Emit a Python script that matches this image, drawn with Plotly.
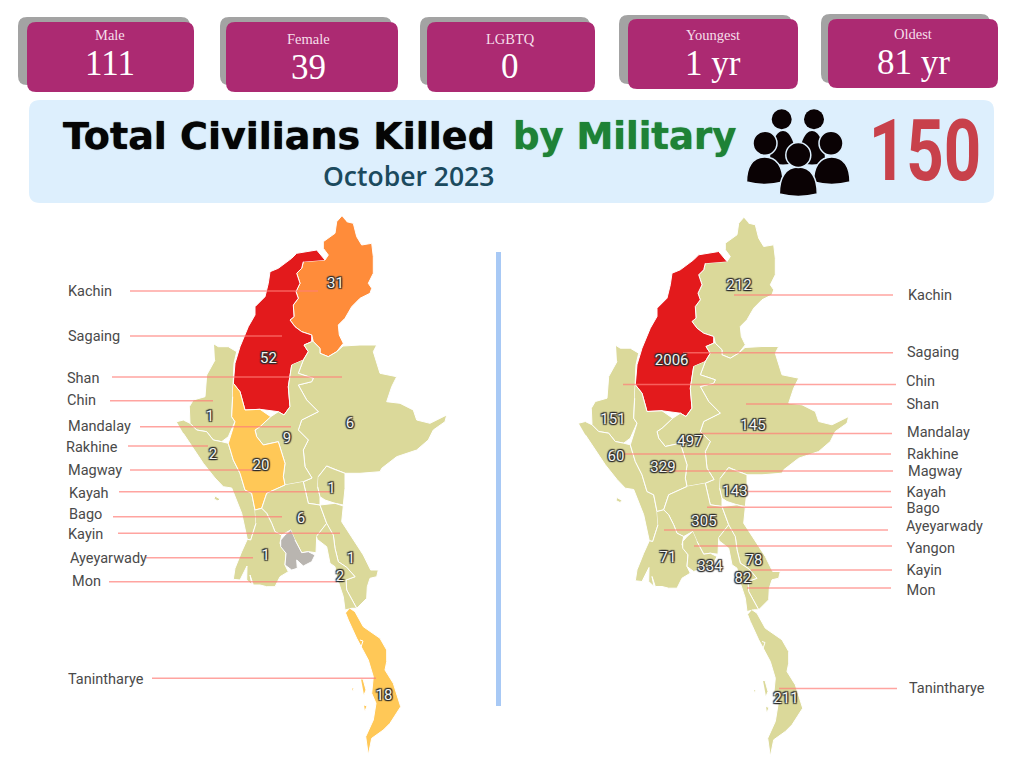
import plotly.graph_objects as go

# cards across the top
card_titles = ["Male", "Female", "LGBTQ", "Youngest", "Oldest"]
card_values = ["111", "39", "0", "1 yr", "81 yr"]
card_boxes = [(27, 22, 194, 92), (226, 22, 398, 92), (427, 22, 595, 92), (628, 19, 798, 89), (828, 19, 998, 88)]
card_backs = [(18, 17, 190, 85), (220, 17, 392, 85), (420, 17, 590, 85), (619, 15, 792, 84), (821, 14, 990, 83)]
card_title_y = [35, 39, 39, 35, 34]
card_value_y = [63, 67, 66, 63, 62]
card_x = [110, 308, 510, 713, 913]

# October 2023 counts, left map
oct_states = ["Kachin", "Sagaing", "Shan", "Chin", "Mandalay", "Rakhine", "Magway", "Kayah", "Bago", "Kayin", "Ayeyarwady", "Mon", "Tanintharye"]
oct_killed = [31, 52, 6, 1, 9, 2, 20, 1, 6, 1, 1, 2, 18]
oct_value_x = [335.5, 268.5, 350, 210, 287, 213, 261, 331.5, 301, 351, 265.7, 340, 384]
oct_value_y = [284, 359, 424, 417, 439, 455, 466, 489.5, 519.5, 559, 556, 577, 696.7]
oct_label_x = [68, 68, 67, 67, 68, 66, 68, 69, 69, 68, 70, 72, 68]
oct_label_y = [292, 337, 379, 401.5, 427, 448.5, 471, 494, 515, 535, 559, 582.5, 680]
oct_line_start = [130, 130, 112, 110, 140, 128, 130, 119, 113, 118, 146, 109, 152]
oct_line_end = [318, 282, 342, 213, 291, 208, 260, 330, 282, 340, 253, 337, 376]
oct_line_y = [291, 336, 377, 400.7, 426.7, 446, 470, 491.7, 516.7, 533.3, 557.7, 581.7, 678.3]

# running totals, right map
total_states = ["Kachin", "Sagaing", "Chin", "Shan", "Mandalay", "Rakhine", "Magway", "Kayah", "Bago", "Ayeyarwady", "Yangon", "Kayin", "Mon", "Tanintharye"]
total_killed = [212, 2006, 151, 145, 497, 60, 329, 143, 305, 71, 334, 78, 82, 211]
total_value_x = [739, 671.7, 613, 753, 690, 616, 663, 735, 704, 668, 710, 754, 743, 786]
total_value_y = [286, 361, 420, 426, 442, 457, 468, 492, 522, 558, 567, 561, 579, 699]
total_label_x = [908, 907, 906, 906.5, 907, 907, 908, 906.5, 906.5, 906, 906.5, 906.5, 906.5, 909]
total_label_y = [296, 353, 382, 405, 433, 455, 472, 493, 509, 527, 549, 571, 591, 689]
total_line_start = [734, 683, 623, 746, 700, 622, 665, 745, 707, 664, 694, 751, 747, 779]
total_line_end = [893, 893, 896, 892, 892, 891, 893, 891, 892, 888, 892, 892, 891, 897]
total_line_y = [295, 352.7, 384.5, 404, 433.5, 454, 471, 491.5, 507.3, 530, 546, 570, 588, 688.5]

# state outlines
kachin_x = [341.7, 336.7, 335, 323.3, 323.3, 328.3, 325, 303.3, 301.7, 296.7, 300, 296, 298.3, 293.3, 294, 290, 295, 301.7, 311.7, 313.3, 320, 320, 328.3, 336.7, 343.3, 339.3, 338.3, 345, 351.7, 360, 370, 371.7, 368.3, 373.3, 373.3, 371.7, 361.7, 356.7, 353.3, 346.7]
kachin_y = [216, 221.7, 233.3, 241.7, 248.3, 255, 260, 261.7, 268.3, 273.3, 283.3, 291.7, 298.3, 305, 316.7, 320, 326.7, 331.7, 335, 341.7, 348.3, 353.3, 356.7, 351.7, 343.3, 335, 325, 318.3, 306.7, 298.3, 293.3, 288.3, 283.3, 273.3, 256.7, 243.3, 245, 236.7, 223.3, 221.7]
sagaing_x = [325, 316.7, 296.7, 291.7, 278.3, 270, 268.3, 266.7, 265, 255, 255, 248.3, 240, 235, 233.3, 240, 245, 260, 270.7, 278.3, 284, 290, 288.3, 291.7, 303.3, 308.3, 304, 311.7, 311.7, 301.7, 295, 290, 294, 293.3, 298.3, 296, 300, 296.7, 301.7, 303.3]
sagaing_y = [260, 250, 253.3, 258.3, 268.3, 271.7, 283.3, 291.7, 296.7, 306.7, 315, 326.7, 346.7, 363.3, 383.3, 391.7, 410, 409.3, 411, 411.7, 415, 406.7, 386.7, 365, 360, 351.7, 345, 341.7, 335, 331.7, 326.7, 320, 316.7, 305, 298.3, 291.7, 283.3, 273.3, 268.3, 261.7]
shan_x = [313.3, 320, 320, 328.3, 336.7, 343, 360, 376.7, 373.3, 376.7, 380, 396.7, 391.7, 386.7, 400, 413.3, 416.7, 430, 446.7, 445, 433.3, 428.3, 416.7, 396.7, 381.7, 380, 360, 345, 331.7, 326.7, 318.3, 317.7, 320, 320, 308.3, 303.3, 312, 305, 303.3, 308.3, 298.3, 301.7, 318.3, 306.7, 298.3, 311.7, 313.3, 298.3, 303.3, 308.3, 304, 311.7]
shan_y = [341.7, 348.3, 353.3, 356.7, 351.7, 346, 345, 345, 351.7, 363.3, 373.3, 376.7, 386.7, 401.7, 403.3, 410, 420, 423.3, 415, 421.7, 430, 440, 450, 456.7, 468.3, 471.7, 473.3, 473.3, 468.3, 466, 476.7, 486.7, 496.7, 505, 503.3, 481.7, 478, 466.7, 450, 440, 430, 420, 411.7, 400, 385, 381.7, 378.3, 373.3, 360, 351.7, 345, 341.7]
chin_x = [214, 218.3, 228.3, 236.7, 234, 233.3, 232.7, 231.7, 235, 228.3, 221.7, 213.3, 206.7, 196.7, 190, 189.3, 193.3, 205, 206.7, 215]
chin_y = [344, 346.7, 346.7, 351.7, 363.3, 383.3, 396.7, 416.7, 421.7, 436.7, 441.7, 440, 431.7, 430, 423.3, 406.7, 400, 396.7, 375, 360]
mandalay_x = [303.3, 298.3, 313.3, 311.7, 298.3, 306.7, 318.3, 301.7, 298.3, 308.3, 303.3, 305, 312, 303.3, 285, 283.3, 285, 278.3, 263.3, 256.7, 255, 260, 270.7, 278.3, 284, 290, 288.3, 291.7]
mandalay_y = [360, 373.3, 378.3, 381.7, 385, 400, 411.7, 420, 430, 440, 450, 466.7, 478, 481.7, 485, 476.7, 463.3, 441.7, 445, 436.7, 430, 426.7, 416.7, 411.7, 415, 406.7, 386.7, 365]
rakhine_x = [176.7, 183.3, 190, 196.7, 206.7, 213.3, 221.7, 228.3, 233.3, 240, 245, 251.7, 255, 256, 250.7, 247.3, 241.7, 235, 231.7, 223.3, 215, 203.3, 196.7, 183.3, None, 215, 220, 218, 214, 215]
rakhine_y = [421.7, 420, 423.3, 430, 431.7, 440, 441.7, 443.3, 460, 473.3, 490, 493.3, 510, 523.3, 540, 539.3, 513.3, 496.7, 488, 486.7, 478, 463.3, 453.3, 433.3, None, 496, 499, 501, 499, 496]
magway_x = [233.3, 240, 245, 260, 270.7, 260, 255, 256.7, 263.3, 278.3, 285, 283.3, 285, 266.7, 261.7, 255, 251.7, 245, 240, 233.3, 228.3, 235, 231.7, 232.7]
magway_y = [383.3, 391.7, 410, 409.3, 416.7, 426.7, 430, 436.7, 445, 441.7, 463.3, 476.7, 485, 493.3, 508.3, 510, 493.3, 490, 473.3, 460, 443.3, 421.7, 416.7, 396.7]
kayah_x = [318.3, 326.7, 331.7, 345, 345, 343.3, 335, 325, 320, 317.7]
kayah_y = [476.7, 466, 468.3, 473.3, 488.3, 505, 503.3, 500, 496.7, 486.7]
bago_x = [303.3, 308.3, 320, 326.7, 316.7, 316, 308.3, 301.7, 295, 290.7, 281.7, 275, 271.7, 266.7, 261.7, 266.7, 285]
bago_y = [481.7, 503.3, 505, 523.3, 536.7, 552.7, 551.7, 552.7, 540, 530, 535, 531.7, 523.3, 513.3, 508.3, 493.3, 485]
kayin_x = [326.7, 320, 335, 343.3, 341.7, 350, 363.3, 370.7, 378.3, 376.7, 370, 367.3, 366.7, 356.7, 346.7, 346, 355, 346.7, 338.3, 335, 333.3]
kayin_y = [523.3, 505, 503.3, 506, 521.7, 535, 555, 570, 570, 576.7, 578.3, 586.7, 598.3, 608.3, 590, 580, 576.7, 567.3, 561.7, 548.3, 535]
ayeyarwady_x = [255, 261.7, 266.7, 271.7, 275, 281.7, 280, 286, 285, 288.3, 280, 275, 266.7, 260, 253.3, 250, 252, 246.7, 247, 240, 233.3, 235, 241.7, 247.3, 250.7, 256]
ayeyarwady_y = [510, 508.3, 513.3, 523.3, 531.7, 535, 543.3, 553.3, 565, 571.7, 576.7, 586.7, 586.7, 585, 585, 575, 585, 580, 566, 580, 579.3, 568.3, 551.7, 539.3, 540, 523.3]
yangon_x = [290.7, 285, 280.7, 280.7, 286, 285, 291.7, 297.3, 296.7, 303.3, 311.7, 315, 308.3, 301.7, 295]
yangon_y = [530, 535, 540, 546.7, 553.3, 565, 570, 568.3, 560, 566, 561.7, 555, 551.7, 552.7, 540]
mon_x = [316.7, 326.7, 333.3, 335, 338.3, 346.7, 355, 346, 346.7, 356.7, 351.7, 345, 343.3, 336.7, 335, 330, 326.7, 318]
mon_y = [536, 523.3, 535, 548.3, 561.7, 567.3, 576.7, 580, 590, 608.3, 608.3, 610, 596.7, 576.7, 566.7, 563.3, 546.7, 540]
tanintharye_x = [350, 355, 363.3, 380, 386.7, 386.7, 385, 393.3, 400.7, 390, 383.3, 371.7, 368.3, 365.7, 373.3, 376, 371.7, 373.3, 368.3, 356.7, 348.3, 345.7, None, 361, 363, 366, 364, None, 360, 363, 361, None, 364, 367, 365, None, 352, 354, 353]
tanintharye_y = [608.3, 611.7, 626.7, 638.3, 650, 661.7, 670, 683.3, 706.7, 723.3, 730, 738.3, 755, 736.7, 720, 703.3, 693.3, 676.7, 660, 638.3, 620, 613.3, None, 679, 679, 690, 695, None, 640, 641, 647, None, 705, 706, 711, None, 688, 688, 691]

outlines = {
    "Kachin": (kachin_x, kachin_y),
    "Sagaing": (sagaing_x, sagaing_y),
    "Shan": (shan_x, shan_y),
    "Chin": (chin_x, chin_y),
    "Mandalay": (mandalay_x, mandalay_y),
    "Rakhine": (rakhine_x, rakhine_y),
    "Magway": (magway_x, magway_y),
    "Kayah": (kayah_x, kayah_y),
    "Bago": (bago_x, bago_y),
    "Kayin": (kayin_x, kayin_y),
    "Ayeyarwady": (ayeyarwady_x, ayeyarwady_y),
    "Yangon": (yangon_x, yangon_y),
    "Mon": (mon_x, mon_y),
    "Tanintharye": (tanintharye_x, tanintharye_y),
}

RIGHT_MAP_DX = 402
RIGHT_MAP_DY = 1.5
BASE = "#DBD99A"
LABEL_FONT = dict(family="Roboto", size=14.5, color="#4a4a4a")
VALUE_FONT = dict(family="Roboto", size=15, color="#f4f4f0",
                  shadow="1px 1px 1px #2b2b2b, -1px -1px 1px #2b2b2b, 1px -1px 1px #2b2b2b, -1px 1px 1px #2b2b2b, 0 0 2px #2b2b2b")
LINE_COLOR = "rgba(255,125,120,0.7)"

# the 150 is a tall condensed face in the original, nothing like it installed
SQUEEZE_150 = """
document.body.style.margin = '0';
document.querySelectorAll('.annotation-text').forEach(function (t) {
  if (t.textContent === '150') {
    var b = t.getBBox();
    var cx = b.x + b.width / 2;
    t.setAttribute('transform', 'translate(' + cx + ' 0) scale(0.76 1) translate(' + (-cx) + ' 0)');
  }
});
"""


def oct_color(v):
    if v is None:
        return "#B9B5B0"
    if v >= 40:
        return "#E31A1C"
    if v >= 25:
        return "#FF8C3A"
    if v >= 10:
        return "#FFC857"
    return BASE


def total_color(v):
    return "#E31A1C" if v >= 1000 else BASE


def rounded(x0, y0, x1, y1, r):
    return (f"M{x0+r},{y0} L{x1-r},{y0} Q{x1},{y0} {x1},{y0+r} L{x1},{y1-r} Q{x1},{y1} {x1-r},{y1} "
            f"L{x0+r},{y1} Q{x0},{y1} {x0},{y1-r} L{x0},{y0+r} Q{x0},{y0} {x0+r},{y0} Z")


def dome(x0, x1, top, bottom):
    mid = (top + bottom) / 2
    c = (x0 + x1) / 2
    return (f"M{x0},{bottom-3} C{x0},{mid-4} {x0+6},{top} {c},{top} C{x1-6},{top} {x1},{mid-4} {x1},{bottom-3} "
            f"Q{c},{bottom+2} {x0},{bottom-3} Z")


fig = go.Figure()
shapes = []
annotations = []

# cards
for i in range(len(card_titles)):
    shapes.append(dict(type="path", path=rounded(*card_backs[i], 9), fillcolor="#A3A3A3", line_width=0))
    shapes.append(dict(type="path", path=rounded(*card_boxes[i], 9), fillcolor="#AC2A72", line_width=0))
    annotations.append(dict(x=card_x[i], y=card_title_y[i], text=card_titles[i],
                            font=dict(family="Liberation Serif", size=14.5, color="#f6dfea")))
    annotations.append(dict(x=card_x[i], y=card_value_y[i], text=card_values[i],
                            font=dict(family="Liberation Serif", size=35, color="#ffffff")))

# banner
shapes.append(dict(type="path", path=rounded(29, 100, 994, 203, 11), fillcolor="#DDEFFD", line_width=0))
annotations.append(dict(x=279, y=136, text="<b>Total Civilians Killed</b>",
                        font=dict(family="DejaVu Sans", size=38, color="#050505", shadow="0 0 1px #050505")))
annotations.append(dict(x=624.5, y=136, text="<b>by Military</b>",
                        font=dict(family="DejaVu Sans", size=37, color="#1E8236", shadow="0 0 1px #1E8236")))
annotations.append(dict(x=408, y=176, text="October 2023",
                        font=dict(family="Open Sans", size=26.5, color="#1B4A5E", weight=600)))
annotations.append(dict(x=925, y=150, text="<b>150</b>",
                        font=dict(family="Roboto", size=86, color="#C8414B")))

# people icon, back row to front
BANNER_EDGE = dict(color="#DDEFFD", width=1.5)
for x0, x1 in [(770, 796), (799, 825)]:
    shapes.append(dict(type="path", path=dome(x0, x1, 131, 165), fillcolor="#0a0204", line_width=0))
for cx, cy, r in [(781.7, 119.3, 10), (814, 119.3, 10)]:
    shapes.append(dict(type="circle", x0=cx-r, x1=cx+r, y0=cy-r, y1=cy+r, fillcolor="#0a0204", line_width=0))
for x0, x1 in [(746.5, 783), (813.5, 850)]:
    shapes.append(dict(type="path", path=dome(x0, x1, 157, 185), fillcolor="#0a0204", line=BANNER_EDGE))
for cx, cy, r in [(765, 143.3, 12), (831, 143.3, 12)]:
    shapes.append(dict(type="circle", x0=cx-r, x1=cx+r, y0=cy-r, y1=cy+r, fillcolor="#0a0204", line=BANNER_EDGE))
shapes.append(dict(type="path", path=dome(779.3, 817.3, 167, 197), fillcolor="#0a0204", line=BANNER_EDGE))
shapes.append(dict(type="circle", x0=785.8, x1=810.8, y0=142.5, y1=167.5, fillcolor="#0a0204", line=BANNER_EDGE))

# divider
shapes.append(dict(type="line", x0=498.5, x1=498.5, y0=252, y1=706, line=dict(color="#A8C9F5", width=5)))

# left map
for name, (xs, ys) in outlines.items():
    v = oct_killed[oct_states.index(name)] if name in oct_states else None
    fig.add_trace(go.Scatter(x=xs, y=ys, mode="lines", fill="toself", fillcolor=oct_color(v),
                             line=dict(color="#ffffff", width=1), hoverinfo="skip"))

# right map, same outlines moved across
for name, (xs, ys) in outlines.items():
    v = total_killed[total_states.index(name)]
    fig.add_trace(go.Scatter(x=[None if p is None else p + RIGHT_MAP_DX for p in xs],
                             y=[None if p is None else p + RIGHT_MAP_DY for p in ys],
                             mode="lines", fill="toself", fillcolor=total_color(v),
                             line=dict(color="#ffffff", width=1), hoverinfo="skip"))

# leader lines
for x0, x1, y in zip(oct_line_start + total_line_start, oct_line_end + total_line_end, oct_line_y + total_line_y):
    fig.add_trace(go.Scatter(x=[x0, x1], y=[y, y], mode="lines", line=dict(color=LINE_COLOR, width=1.5), hoverinfo="skip"))

# numbers on the maps
fig.add_trace(go.Scatter(x=oct_value_x, y=oct_value_y, mode="text", text=[str(v) for v in oct_killed],
                         textposition="middle center", textfont=VALUE_FONT, hoverinfo="skip"))
fig.add_trace(go.Scatter(x=total_value_x, y=total_value_y, mode="text", text=[str(v) for v in total_killed],
                         textposition="middle center", textfont=VALUE_FONT, hoverinfo="skip"))

# state names
fig.add_trace(go.Scatter(x=oct_label_x, y=oct_label_y, mode="text", text=oct_states,
                         textposition="middle right", textfont=LABEL_FONT, hoverinfo="skip"))
fig.add_trace(go.Scatter(x=total_label_x, y=total_label_y, mode="text", text=total_states,
                         textposition="middle right", textfont=LABEL_FONT, hoverinfo="skip"))

for a in annotations:
    a.update(xref="x", yref="y", showarrow=False, xanchor="center", yanchor="middle")
for s in shapes:
    s.update(xref="x", yref="y", layer="below")

fig.update_layout(
    width=1024, height=768, margin=dict(l=0, r=0, t=0, b=0),
    paper_bgcolor="#ffffff", plot_bgcolor="#ffffff", showlegend=False,
    xaxis=dict(range=[0, 1024], visible=False, fixedrange=True),
    yaxis=dict(range=[768, 0], visible=False, fixedrange=True),
    shapes=shapes, annotations=annotations,
)

fig.write_html("out.html", config=dict(displayModeBar=False), post_script=SQUEEZE_150)
